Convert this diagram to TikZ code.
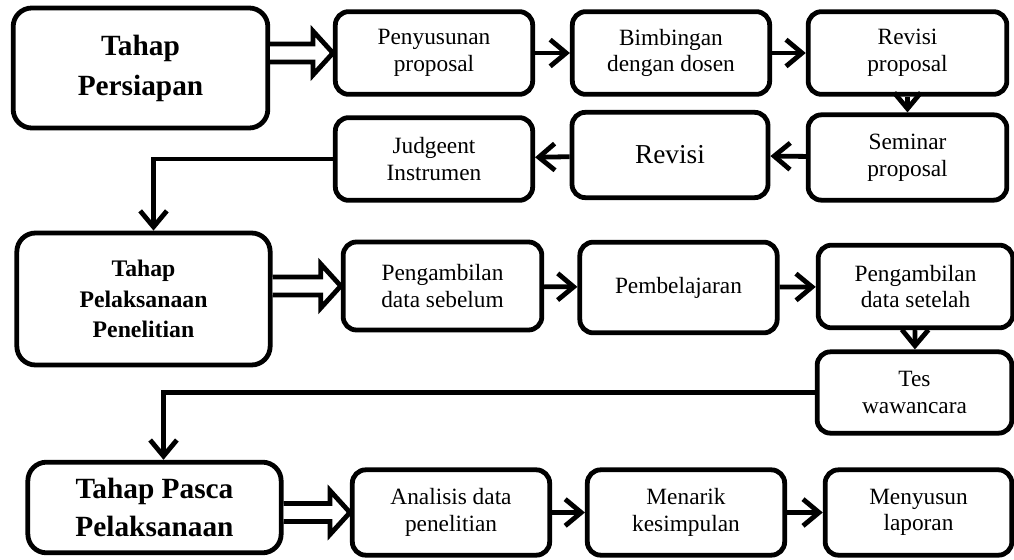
\documentclass[tikz,border=0pt]{standalone}
\usepackage{fontspec}
\setmainfont{Liberation Serif}
\usetikzlibrary{calc,arrows.meta}
\tikzset{every picture/.style={line width=3.6pt}}
\tikzset{
  box/.style={draw, rounded corners=10pt, align=center, inner sep=0.75pt,
    font=\fontsize{17.5}{20}\selectfont},
  stagebox/.style={box, rounded corners=14pt, font=\fontsize{22}{30}\selectfont\bfseries},
  arr/.style={-{Straight Barb[length=12pt,width=20pt]}},
  hollow/.style={fill=white, line join=miter}
}

\begin{document}
\begin{tikzpicture}[x=0.75pt,y=0.75pt,yscale=-1,xscale=1]
\useasboundingbox (0,0) rectangle (1014,560);
% tahap persiapan
\node (persiapan) at (140.5,68) [stagebox, minimum width=191pt, minimum height=90pt] {Tahap\\Persiapan};
\node (penyusunan) at (434,53) [box, minimum width=148pt, minimum height=62pt] {Penyusunan\\proposal};
\node (bimbingan) at (671,53) [box, minimum width=148pt, minimum height=62pt] {Bimbingan\\dengan dosen};
\node (revprop) at (907.5,53) [box, minimum width=149pt, minimum height=62pt] {Revisi\\proposal};
\node (seminar) at (907.5,157.5) [box, minimum width=149pt, minimum height=64pt] {Seminar\\proposal};
\node (revisi) at (670,155) [box, minimum width=147pt, minimum height=64pt, font=\fontsize{20.5}{24}\selectfont] {Revisi};
\node (judgeent) at (434,159) [box, minimum width=148pt, minimum height=62pt] {Judgeent\\Instrumen};
% tahap pelaksanaan
\node (pelaksanaan) at (143.5,299) [stagebox, minimum width=190pt, minimum height=99pt, font=\fontsize{17.8}{23}\selectfont\bfseries] {Tahap\\Pelaksanaan\\Penelitian};
\node (sebelum) at (442.5,286) [box, minimum width=149pt, minimum height=66pt] {Pengambilan\\data sebelum};
\node (pembelajaran) at (678.5,287.5) [box, minimum width=148pt, minimum height=68pt] {Pembelajaran};
\node (setelah) at (915.5,286.5) [box, minimum width=146pt, minimum height=62pt] {Pengambilan\\data setelah};
\node (tes) at (914.5,392.5) [box, minimum width=146pt, minimum height=61pt] {Tes\\wawancara};
% tahap pasca
\node (pasca) at (154.5,507.5) [stagebox, minimum width=190pt, minimum height=68pt, font=\fontsize{22}{28.5}\selectfont\bfseries] {Tahap Pasca\\Pelaksanaan};
\node (analisis) at (451,512.5) [box, minimum width=148pt, minimum height=64pt] {Analisis data\\penelitian};
\node (menarik) at (686,512.5) [box, minimum width=148pt, minimum height=64pt] {Menarik\\kesimpulan};
\node (menyusun) at (918.5,512.5) [box, minimum width=140pt, minimum height=64pt] {Menyusun\\laporan};

\draw[hollow] ($(persiapan.east |- penyusunan.west)+(0,-9)$) -- ($(penyusunan.west)+(-20,-9)$) -- ++(0,-13) -- (penyusunan.west) -- ++(-20,22) -- ++(0,-13) -- ($(persiapan.east |- penyusunan.west)+(0,9)$);
\draw[hollow] ($(pelaksanaan.east |- sebelum.west)+(0,-9)$) -- ($(sebelum.west)+(-20,-9)$) -- ++(0,-13) -- (sebelum.west) -- ++(-20,22) -- ++(0,-13) -- ($(pelaksanaan.east |- sebelum.west)+(0,9)$);
\draw[hollow] ($(pasca.east |- analisis.west)+(0,-9)$) -- ($(analisis.west)+(-20,-9)$) -- ++(0,-13) -- (analisis.west) -- ++(-20,22) -- ++(0,-13) -- ($(pasca.east |- analisis.west)+(0,9)$);

\draw[arr] (penyusunan) -- (bimbingan);
\draw[arr] (bimbingan) -- (revprop);
\draw[arr] (revprop) -- (seminar);
\draw[arr] (seminar) -- (revisi);
\draw[arr] (revisi) -- (judgeent);
\draw[arr] (judgeent.west) -| ($(pelaksanaan.north)+(10,0)$);
\draw[arr] (sebelum) -- (pembelajaran);
\draw[arr] (pembelajaran) -- (setelah);
\draw[arr] (setelah) -- (tes);
\draw[arr] (tes.west) -| ($(pasca.north)+(9,0)$);
\draw[arr] (analisis) -- (menarik);
\draw[arr] (menarik) -- (menyusun);
\end{tikzpicture}
\end{document}
